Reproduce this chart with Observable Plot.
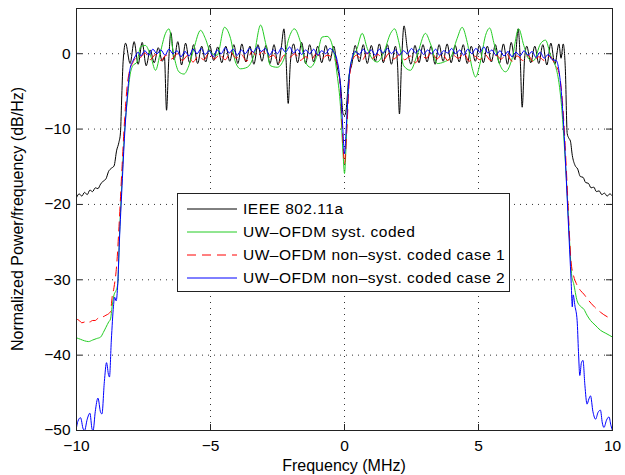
<!DOCTYPE html>
<html><head><meta charset="utf-8">
<script src="https://cdn.jsdelivr.net/npm/d3@7"></script>
<script src="https://cdn.jsdelivr.net/npm/@observablehq/plot@0.6"></script>
<style>
html,body{margin:0;padding:0;background:#fff;}
</style>
</head><body>
<div id="chart"></div>
<script>
// [frequency MHz, power dB/Hz]
const ieee = [[-10,-19.1],[-9.9,-18.6],[-9.8,-18.9],[-9.7,-18.4],[-9.6,-18.7],[-9.5,-18.1],[-9.4,-18.3],[-9.3,-17.8],[-9.2,-17.9],[-9.1,-17.3],[-9.0,-16.9],[-8.9,-16.6],[-8.8,-15.6],[-8.7,-15.2],[-8.6,-14.9],[-8.5,-12.8],[-8.42,-11.8],[-8.36,-10.5],[-8.31,-5.5],[-8.26,-1.0],[-8.17,1.4],[-8.0,-1.3],[-7.85,1.6],[-7.7,-1.4],[-7.55,1.5],[-7.4,-1.6],[-7.25,0.5],[-7.1,-1.2],[-6.95,0.8],[-6.8,-1.0],[-6.72,-0.4],[-6.64,-7.5],[-6.56,-1.0],[-6.48,2.8],[-6.36,-0.8],[-6.22,1.6],[-6.08,-1.5],[-5.93,1.4],[-5.78,-1.2],[-5.63,1.2],[-5.48,-1.3],[-5.33,1.0],[-5.18,-1.1],[-5.03,1.1],[-4.88,-0.9],[-4.73,0.9],[-4.58,-1.2],[-4.43,1.0],[-4.28,-1.0],[-4.13,1.2],[-3.98,-1.3],[-3.83,1.3],[-3.68,-1.1],[-3.53,1.0],[-3.38,-1.4],[-3.23,1.2],[-3.08,-1.0],[-2.93,1.1],[-2.78,-1.3],[-2.63,1.2],[-2.48,-1.5],[-2.36,0.8],[-2.26,3.3],[-2.18,-0.8],[-2.1,-6.6],[-2.02,-1.2],[-1.9,1.3],[-1.75,-1.2],[-1.6,1.5],[-1.45,-1.3],[-1.3,1.2],[-1.15,-1.1],[-1.0,1.0],[-0.85,-1.2],[-0.7,1.1],[-0.55,-1.0],[-0.4,1.0],[-0.28,-1.6],[-0.15,-4.0],[-0.05,-8.0],[0,-8.2],[0.06,-7.5],[0.15,-3.5],[0.28,-1.3],[0.4,1.1],[0.55,-1.1],[0.7,1.2],[0.85,-1.3],[1.0,1.1],[1.15,-1.0],[1.3,1.3],[1.45,-1.2],[1.6,1.2],[1.75,-1.4],[1.9,1.0],[1.98,-1.5],[2.05,-8.0],[2.13,-1.0],[2.22,3.7],[2.35,0.5],[2.48,-1.4],[2.63,1.1],[2.78,-1.2],[2.93,1.2],[3.08,-1.1],[3.23,1.0],[3.38,-1.4],[3.53,1.2],[3.68,-1.0],[3.83,1.3],[3.98,-1.2],[4.13,1.1],[4.28,-1.1],[4.43,1.2],[4.58,-1.3],[4.73,1.0],[4.88,-1.0],[5.03,1.1],[5.18,-1.2],[5.33,1.0],[5.48,-1.1],[5.63,1.2],[5.78,-1.3],[5.93,1.3],[6.08,-1.4],[6.22,1.5],[6.36,-0.8],[6.48,3.3],[6.56,-1.0],[6.63,-7.1],[6.72,-0.6],[6.8,1.0],[6.95,-1.2],[7.1,1.0],[7.25,-1.3],[7.4,1.2],[7.55,-1.5],[7.7,1.4],[7.85,-1.4],[8.0,1.3],[8.08,-0.6],[8.16,1.3],[8.24,-2.0],[8.31,-10.6],[8.37,-11.2],[8.43,-11.6],[8.5,-13.5],[8.6,-14.8],[8.7,-15.3],[8.8,-16.3],[8.9,-16.4],[9.0,-17.1],[9.1,-17.2],[9.2,-17.8],[9.3,-17.7],[9.4,-18.3],[9.5,-18.2],[9.6,-18.7],[9.7,-18.5],[9.8,-18.9],[9.9,-18.6],[10,-18.9]];

const systCoded = [[-10,-37.7],[-9.85,-37.9],[-9.7,-38.1],[-9.55,-38.2],[-9.4,-38.0],[-9.25,-37.8],[-9.1,-37.6],[-9.0,-37.0],[-8.9,-36.3],[-8.8,-35.6],[-8.73,-35.2],[-8.67,-33.5],[-8.6,-32.0],[-8.52,-31.4],[-8.46,-30.5],[-8.4,-24.5],[-8.3,-16.5],[-8.2,-10.0],[-8.1,-6.0],[-8.0,-2.8],[-7.9,-1.6],[-7.74,-1.1],[-7.61,0.9],[-7.43,1.1],[-7.24,-0.2],[-7.05,-2.2],[-6.87,0.2],[-6.68,2.7],[-6.55,3.3],[-6.37,-0.2],[-6.18,-2.4],[-5.99,-2.7],[-5.81,-1.6],[-5.62,0.7],[-5.37,3.1],[-5.19,2.0],[-5.0,0.2],[-4.75,-0.2],[-4.48,3.5],[-4.25,2.0],[-4.07,-1.1],[-3.88,-2.0],[-3.63,-1.8],[-3.38,-0.2],[-3.13,3.8],[-2.95,1.5],[-2.76,-1.6],[-2.51,-1.8],[-2.26,-0.7],[-2.08,2.0],[-1.87,3.3],[-1.64,1.5],[-1.46,-1.1],[-1.27,-1.8],[-1.02,-0.2],[-0.84,2.2],[-0.65,2.3],[-0.52,1.8],[-0.4,0.2],[-0.27,-2.9],[-0.15,-7.0],[-0.05,-13.5],[0,-15.9],[0.05,-13.0],[0.12,-6.0],[0.22,-1.6],[0.47,0.7],[0.66,2.7],[0.85,0.7],[1.04,-0.7],[1.22,-1.1],[1.47,0.2],[1.72,2.7],[1.87,3.3],[2.03,1.5],[2.21,-1.6],[2.46,-2.2],[2.71,-0.2],[3.02,2.7],[3.21,1.3],[3.46,-1.3],[3.71,-1.1],[3.96,-0.5],[4.2,2.0],[4.39,3.5],[4.58,1.5],[4.77,-2.0],[4.89,-3.1],[5.07,-1.1],[5.26,2.4],[5.42,3.4],[5.57,1.5],[5.76,-1.1],[6.01,-2.4],[6.25,-0.7],[6.5,3.3],[6.69,1.1],[6.88,-0.7],[7.06,-0.9],[7.31,1.3],[7.5,1.8],[7.69,-0.2],[7.87,-1.6],[8.0,-3.8],[8.1,-7.0],[8.2,-12.0],[8.3,-18.0],[8.4,-25.0],[8.48,-29.5],[8.55,-30.5],[8.68,-32.8],[8.8,-33.5],[8.93,-33.9],[9.05,-34.7],[9.18,-35.4],[9.35,-36.0],[9.55,-36.7],[9.75,-37.1],[10,-37.6]];

const nonSystCase1 = [[-10,-35.2],[-9.9,-35.4],[-9.8,-35.7],[-9.7,-35.6],[-9.6,-35.5],[-9.5,-35.6],[-9.4,-35.4],[-9.3,-35.4],[-9.2,-35.1],[-9.1,-35.0],[-9.0,-34.9],[-8.9,-34.7],[-8.8,-34.5],[-8.73,-34.2],[-8.67,-32.3],[-8.6,-31.0],[-8.5,-28.0],[-8.4,-22.0],[-8.3,-15.0],[-8.2,-8.5],[-8.1,-4.0],[-8.0,-2.0],[-7.9,-1.2],[-7.8,-0.6],[-7.65,-0.6],[-7.45,0.1],[-7.25,-0.8],[-7.05,-0.1],[-6.85,-0.9],[-6.65,-0.2],[-6.45,-0.7],[-6.25,0.0],[-6.05,-0.9],[-5.85,-0.2],[-5.65,-1.1],[-5.45,-0.3],[-5.25,-0.8],[-5.05,0.1],[-4.85,-0.7],[-4.65,-0.1],[-4.45,-0.8],[-4.25,0.2],[-4.05,-0.6],[-3.85,-0.1],[-3.65,-1.0],[-3.45,0.3],[-3.25,-0.4],[-3.05,0.4],[-2.85,-0.5],[-2.65,-0.2],[-2.45,-1.2],[-2.25,-0.2],[-2.05,-0.5],[-1.85,0.0],[-1.65,-0.9],[-1.45,-0.4],[-1.25,-0.8],[-1.05,0.0],[-0.85,-0.7],[-0.65,-0.2],[-0.45,-0.5],[-0.3,-1.0],[-0.18,-3.5],[-0.08,-10.0],[0,-14.6],[0.08,-10.5],[0.18,-3.5],[0.3,-0.8],[0.45,-0.2],[0.65,-0.9],[0.85,0.1],[1.05,-0.6],[1.25,-0.1],[1.45,-0.9],[1.65,0.0],[1.85,-0.7],[2.05,-0.1],[2.25,-0.8],[2.45,-0.3],[2.65,-1.2],[2.85,-0.2],[3.05,-0.6],[3.25,0.2],[3.45,-0.7],[3.65,0.0],[3.85,-0.9],[4.05,-0.2],[4.25,-0.6],[4.45,0.1],[4.65,-1.0],[4.85,-0.3],[5.05,-0.8],[5.25,-0.1],[5.45,-0.9],[5.65,-0.2],[5.85,-0.7],[6.05,0.0],[6.25,-1.0],[6.45,-0.3],[6.65,-0.9],[6.85,-0.2],[7.05,-1.1],[7.25,-0.4],[7.45,-0.9],[7.65,-0.3],[7.85,-1.4],[8.0,-2.5],[8.1,-5.0],[8.2,-10.0],[8.3,-17.0],[8.4,-24.5],[8.45,-27.5],[8.55,-29.5],[8.65,-30.5],[8.8,-31.4],[8.93,-31.9],[9.1,-32.7],[9.3,-33.5],[9.55,-34.3],[9.8,-34.9],[10,-35.2]];

const nonSystCase2 = [[-10,-49.6],[-9.95,-48.8],[-9.85,-48.3],[-9.75,-49.8],[-9.7,-50.0],[-9.6,-48.5],[-9.5,-47.7],[-9.42,-49.8],[-9.38,-50.0],[-9.3,-47.5],[-9.2,-45.7],[-9.1,-47.6],[-9.05,-47.8],[-8.96,-43.5],[-8.88,-41.0],[-8.8,-42.7],[-8.77,-42.9],[-8.7,-38.0],[-8.62,-33.5],[-8.58,-32.3],[-8.52,-32.8],[-8.46,-30.5],[-8.4,-25.0],[-8.3,-17.5],[-8.2,-10.5],[-8.1,-5.5],[-8.0,-2.0],[-7.9,-1.0],[-7.8,-0.3],[-7.7,0.2],[-7.6,-0.3],[-7.45,0.4],[-7.3,-0.2],[-7.15,0.6],[-7.0,0.0],[-6.85,0.5],[-6.7,-0.2],[-6.55,0.6],[-6.4,0.0],[-6.25,0.4],[-6.1,-0.4],[-5.95,0.3],[-5.8,-0.3],[-5.65,0.6],[-5.5,0.0],[-5.35,0.7],[-5.2,-0.1],[-5.05,0.4],[-4.9,-0.4],[-4.75,0.5],[-4.6,0.0],[-4.45,0.8],[-4.3,0.1],[-4.15,0.6],[-4.0,-0.2],[-3.85,0.5],[-3.7,0.0],[-3.55,0.7],[-3.4,0.2],[-3.25,0.9],[-3.1,0.3],[-2.95,0.7],[-2.8,-0.2],[-2.65,0.5],[-2.5,0.0],[-2.35,0.8],[-2.2,0.2],[-2.05,0.9],[-1.9,0.1],[-1.75,0.6],[-1.6,-0.1],[-1.45,0.5],[-1.3,0.0],[-1.15,0.6],[-1.0,-0.2],[-0.85,0.4],[-0.7,0.0],[-0.55,0.7],[-0.4,0.2],[-0.28,-0.8],[-0.17,-3.5],[-0.07,-9.5],[0,-13.3],[0.07,-9.5],[0.17,-3.2],[0.28,-0.6],[0.4,0.3],[0.55,-0.1],[0.7,0.6],[0.85,0.0],[1.0,0.5],[1.15,-0.2],[1.3,0.6],[1.45,0.1],[1.6,0.7],[1.75,0.0],[1.9,0.5],[2.05,-0.2],[2.2,0.4],[2.35,0.0],[2.5,0.7],[2.65,0.1],[2.8,0.6],[2.95,-0.1],[3.1,0.5],[3.25,0.0],[3.4,0.6],[3.55,-0.2],[3.7,0.4],[3.85,0.1],[4.0,0.7],[4.15,0.0],[4.3,0.5],[4.45,-0.2],[4.6,0.6],[4.75,0.0],[4.9,0.7],[5.05,0.2],[5.2,0.9],[5.35,0.1],[5.5,0.5],[5.65,-0.2],[5.8,0.4],[5.95,-0.3],[6.1,0.3],[6.25,-0.4],[6.4,0.2],[6.55,-0.3],[6.7,0.4],[6.85,-0.2],[7.0,0.3],[7.15,-0.5],[7.3,0.2],[7.45,-0.6],[7.6,-0.1],[7.75,-0.8],[7.9,-0.9],[8.0,-2.2],[8.1,-5.5],[8.2,-11.0],[8.3,-18.5],[8.4,-26.0],[8.46,-30.5],[8.5,-33.6],[8.53,-32.0],[8.6,-33.5],[8.68,-35.4],[8.73,-39.5],[8.78,-42.7],[8.84,-41.0],[8.9,-40.7],[8.97,-44.0],[9.05,-46.5],[9.12,-45.8],[9.18,-45.4],[9.27,-47.5],[9.37,-48.5],[9.46,-47.6],[9.55,-47.3],[9.62,-49.0],[9.68,-49.6],[9.78,-48.6],[9.87,-48.2],[9.94,-49.3],[10,-50.0]];

const xTicks = [-10, -5, 0, 5, 10];
const yTicks = [-50, -40, -30, -20, -10, 0];
const xGrid = [-5, 0, 5];
const yGrid = [-40, -30, -20, -10, 0];
const seriesNames = ["IEEE 802.11a", "UW–OFDM syst. coded", "UW–OFDM non–syst. coded case 1", "UW–OFDM non–syst. coded case 2"];
const seriesColors = ["#000000", "#22cc22", "#ff0000", "#0000ff"];
const seriesDash = [null, null, "9,6", null];
const seriesData = [ieee, systCoded, nonSystCase1, nonSystCase2];

const W = 625, H = 475, mL = 76, mR = 13, mT = 8, mB = 45;
const innerW = W - mL - mR, innerH = H - mT - mB;
const font = "'Liberation Sans', Arial, Helvetica, sans-serif";

const lineMarks = seriesData.map((d, i) => Plot.line(d, {
  x: r => r[0], y: r => r[1], stroke: seriesColors[i], strokeWidth: 1,
  strokeDasharray: seriesDash[i] ?? undefined, curve: "monotone-x", clip: true
}));

const plot = Plot.plot({
  width: W, height: H,
  marginLeft: mL, marginRight: mR, marginTop: mT, marginBottom: mB,
  x: {domain: [-10, 10]},
  y: {domain: [-50, 6]},
  style: {fontFamily: font, fontSize: "15px", background: "white", color: "#000"},
  marks: [
    Plot.ruleX(xGrid, {stroke: "#333", strokeDasharray: "1,5", strokeWidth: 1}),
    Plot.ruleY(yGrid, {stroke: "#333", strokeDasharray: "1,5", strokeWidth: 1}),
    ...lineMarks,
    Plot.ruleX(xTicks, {insetTop: innerH - 6, stroke: "#222"}),
    Plot.ruleX(xTicks, {insetBottom: innerH - 6, stroke: "#222"}),
    Plot.ruleY(yTicks, {insetRight: innerW - 6, stroke: "#222"}),
    Plot.ruleY(yTicks, {insetLeft: innerW - 6, stroke: "#222"}),
    Plot.frame({stroke: "#222"}),
    Plot.axisX(xTicks, {tickSize: 0, tickPadding: 9, label: null, fontSize: 15.5}),
    Plot.axisY(yTicks, {tickSize: 0, tickPadding: 6, label: null, fontSize: 15.5})
  ]
});
document.getElementById("chart").appendChild(plot);

const svg = d3.select(plot);
svg.append("text")
  .attr("x", mL + innerW / 2).attr("y", 465).attr("dy", "0.35em")
  .attr("text-anchor", "middle").attr("font-size", 16).attr("font-family", font)
  .attr("fill", "#000").text("Frequency (MHz)");
svg.append("text")
  .attr("transform", `translate(17,${mT + innerH / 2}) rotate(-90)`)
  .attr("dy", "0.35em")
  .attr("text-anchor", "middle").attr("font-size", 16).attr("font-family", font)
  .attr("fill", "#000").text("Normalized Power/frequency (dB/Hz)");

const lg = svg.append("g");
lg.append("rect").attr("x", 177.5).attr("y", 193.5).attr("width", 332).attr("height", 98)
  .attr("fill", "white").attr("stroke", "#222");
seriesNames.forEach((name, i) => {
  const y = 209 + i * 23;
  lg.append("line").attr("x1", 187).attr("x2", 237).attr("y1", y).attr("y2", y)
    .attr("stroke", seriesColors[i]).attr("stroke-width", 1)
    .attr("stroke-dasharray", seriesDash[i]);
  lg.append("text").attr("x", 243).attr("y", y).attr("dy", "0.35em")
    .attr("text-anchor", "start")
    .attr("font-size", 15.5).attr("font-family", font).attr("letter-spacing", "0.5px")
    .attr("fill", "#000").text(name);
});
</script>
</body></html>
